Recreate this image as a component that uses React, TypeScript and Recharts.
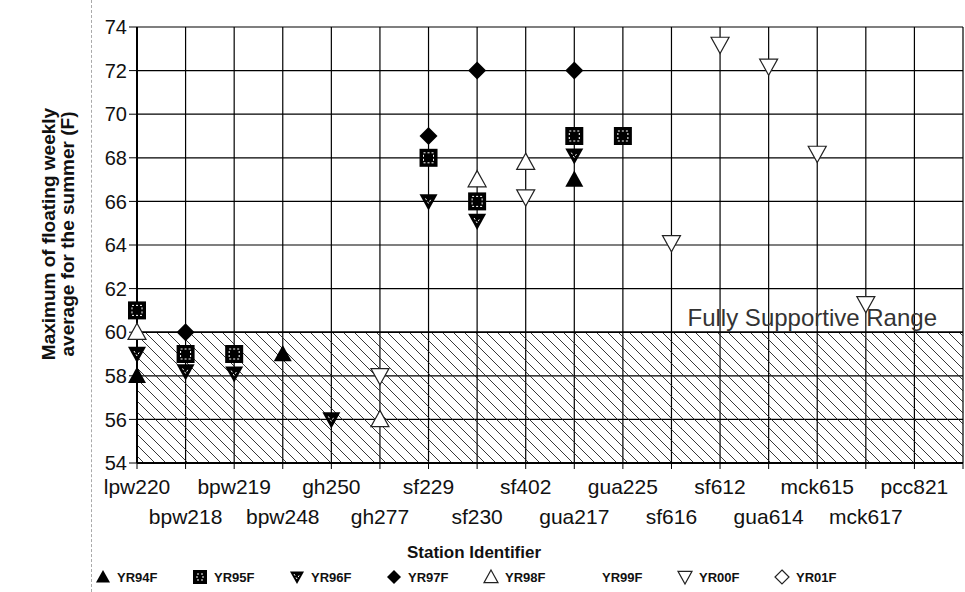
import React from "react";
import {
  ScatterChart,
  Scatter,
  XAxis,
  YAxis,
  CartesianGrid,
  ReferenceArea,
  ReferenceLine,
} from "recharts";

// station order along the x axis
const STATIONS = [
  "lpw220", "bpw218", "bpw219", "bpw248", "gh250", "gh277", "sf229", "sf230",
  "sf402", "gua217", "gua225", "sf616", "sf612", "gua614", "mck615", "mck617", "pcc821",
];
const X_TICKS = [0, 1, 2, 3, 4, 5, 6, 7, 8, 9, 10, 11, 12, 13, 14, 15, 16, 17];
const Y_TICKS = [54, 56, 58, 60, 62, 64, 66, 68, 70, 72, 74];

// [station, max of floating weekly average (F)]
const YR94F: [string, number][] = [["lpw220", 58], ["bpw248", 59], ["gua217", 67]];
const YR95F: [string, number][] = [
  ["lpw220", 61], ["bpw218", 59], ["bpw219", 59], ["sf229", 68],
  ["sf230", 66], ["gua217", 69], ["gua225", 69],
];
const YR96F: [string, number][] = [
  ["lpw220", 59], ["bpw218", 58.2], ["bpw219", 58.1], ["gh250", 56],
  ["sf229", 66], ["sf230", 65.1], ["gua217", 68.1],
];
const YR97F: [string, number][] = [["bpw218", 60], ["sf229", 69], ["sf230", 72], ["gua217", 72]];
const YR98F: [string, number][] = [["lpw220", 60], ["gh277", 56], ["sf230", 67], ["sf402", 67.8]];
const YR99F: [string, number][] = [];
const YR00F: [string, number][] = [
  ["gh277", 58], ["sf402", 66.2], ["sf616", 64.1], ["sf612", 73.2],
  ["gua614", 72.2], ["mck615", 68.2], ["mck617", 61.3],
];
const YR01F: [string, number][] = [];

const toPoints = (rows: [string, number][]) =>
  rows.map(([s, v]) => ({ x: STATIONS.indexOf(s), y: v }));

const FONT = "'Liberation Sans', Arial, sans-serif";

type MarkerKind = "triUp" | "square" | "triDown" | "diamond" | "openUp" | "none" | "openDown" | "openDiamond";

function Marker({ kind, cx, cy, s = 9 }: { kind: MarkerKind; cx: number; cy: number; s?: number }) {
  switch (kind) {
    case "triUp":
      return <polygon points={`${cx},${cy - s} ${cx + s},${cy + s * 0.8} ${cx - s},${cy + s * 0.8}`} fill="#000" />;
    case "openUp":
      return (
        <polygon
          points={`${cx},${cy - s} ${cx + s},${cy + s * 0.8} ${cx - s},${cy + s * 0.8}`}
          fill="#fff"
          stroke="#222"
          strokeWidth={1.2}
        />
      );
    case "triDown":
      return (
        <g>
          <polygon points={`${cx - s},${cy - s * 0.8} ${cx + s},${cy - s * 0.8} ${cx},${cy + s}`} fill="#000" />
          <polyline points={`${cx - 3},${cy - 3} ${cx},${cy + 2} ${cx + 3},${cy - 3}`} fill="none" stroke="#fff" strokeWidth={1} strokeDasharray="2 2" />
        </g>
      );
    case "openDown":
      return (
        <polygon
          points={`${cx - s},${cy - s * 0.8} ${cx + s},${cy - s * 0.8} ${cx},${cy + s}`}
          fill="#fff"
          stroke="#222"
          strokeWidth={1.2}
        />
      );
    case "square":
      return (
        <g>
          <rect x={cx - s} y={cy - s} width={s * 2} height={s * 2} fill="#000" />
          <rect x={cx - s + 4} y={cy - s + 4} width={s * 2 - 8} height={s * 2 - 8} fill="none" stroke="#fff" strokeWidth={1} strokeDasharray="2 2" />
        </g>
      );
    case "diamond":
      return <polygon points={`${cx},${cy - s} ${cx + s},${cy} ${cx},${cy + s} ${cx - s},${cy}`} fill="#000" />;
    case "openDiamond":
      return (
        <polygon
          points={`${cx},${cy - s} ${cx + s},${cy} ${cx},${cy + s} ${cx - s},${cy}`}
          fill="#fff"
          stroke="#222"
          strokeWidth={1.2}
        />
      );
    default:
      return null;
  }
}

const shapeOf = (kind: MarkerKind) => (props: any) =>
  props.cx == null ? null : <Marker kind={kind} cx={props.cx} cy={props.cy} />;

const SERIES: { name: string; rows: [string, number][]; kind: MarkerKind }[] = [
  { name: "YR94F", rows: YR94F, kind: "triUp" },
  { name: "YR95F", rows: YR95F, kind: "square" },
  { name: "YR96F", rows: YR96F, kind: "triDown" },
  { name: "YR97F", rows: YR97F, kind: "diamond" },
  { name: "YR98F", rows: YR98F, kind: "openUp" },
  { name: "YR99F", rows: YR99F, kind: "none" },
  { name: "YR00F", rows: YR00F, kind: "openDown" },
  { name: "YR01F", rows: YR01F, kind: "openDiamond" },
];

function StationTick({ x, y, payload }: any) {
  const i = payload.value;
  if (i >= STATIONS.length) return null;
  const second = i % 2 === 1;
  return (
    <text x={x} y={y + (second ? 53 : 23)} textAnchor="middle" fontFamily={FONT} fontSize={21} fill="#111">
      {STATIONS[i]}
    </text>
  );
}

function RangeLabel({ viewBox }: any) {
  if (!viewBox) return null;
  return (
    <text x={viewBox.x + viewBox.width - 26} y={viewBox.y - 6} textAnchor="end" fontFamily={FONT} fontSize={24} fill="#333">
      Fully Supportive Range
    </text>
  );
}

export default function App() {
  return (
    <div style={{ position: "absolute", left: 0, top: 0, width: 965, height: 592, background: "#fff", overflow: "hidden" }}>
      <div style={{ position: "absolute", left: 91, top: 0, height: 592, borderLeft: "1px dashed #aaa" }} />
      <ScatterChart width={965} height={592} margin={{ top: 27, right: 2, bottom: 59, left: 97 }}>
        <defs>
          <pattern id="hatch" patternUnits="userSpaceOnUse" width={11} height={11}>
            <path d="M0,0 L11,11 M-1,10 L1,12 M10,-1 L12,1" stroke="#222" strokeWidth={0.9} />
          </pattern>
        </defs>
        <ReferenceArea y1={54} y2={60} fill="url(#hatch)" fillOpacity={1} stroke="none" />
        <CartesianGrid stroke="#000" strokeWidth={1.2} />
        <ReferenceLine y={60} stroke="#000" strokeWidth={1.4} label={<RangeLabel />} />
        <XAxis
          type="number"
          dataKey="x"
          domain={[0, 17]}
          ticks={X_TICKS}
          interval={0}
          height={70}
          tick={<StationTick />}
          tickSize={6}
          axisLine={{ stroke: "#000", strokeWidth: 2 }}
          tickLine={{ stroke: "#000" }}
        />
        <YAxis
          type="number"
          dataKey="y"
          domain={[54, 74]}
          ticks={Y_TICKS}
          interval={0}
          width={40}
          tickSize={8}
          tick={{ fontFamily: FONT, fontSize: 20, fill: "#111" }}
          axisLine={{ stroke: "#000", strokeWidth: 2 }}
          tickLine={{ stroke: "#000" }}
        />
        {SERIES.map((s) => (
          <Scatter
            key={s.name}
            name={s.name}
            data={toPoints(s.rows)}
            shape={shapeOf(s.kind)}
            isAnimationActive={false}
          />
        ))}
      </ScatterChart>

      <svg width={965} height={592} style={{ position: "absolute", left: 0, top: 0, pointerEvents: "none" }}>
        <g fontFamily={FONT} fontWeight="bold" fontSize={19} fill="#111" textAnchor="middle">
          <text transform="translate(55,234) rotate(-90)">Maximum of floating weekly</text>
          <text transform="translate(74,234) rotate(-90)">average for the summer (F)</text>
        </g>
        <text x={474} y={558} textAnchor="middle" fontFamily={FONT} fontWeight="bold" fontSize={17} fill="#111">
          Station Identifier
        </text>
        {SERIES.map((s, i) => (
          <g key={s.name} transform={`translate(${95 + 97 * i},0)`}>
            <Marker kind={s.kind} cx={8} cy={577} s={7} />
            <text x={22} y={582} fontFamily={FONT} fontWeight="bold" fontSize={13} fill="#111">
              {s.name}
            </text>
          </g>
        ))}
      </svg>
    </div>
  );
}
